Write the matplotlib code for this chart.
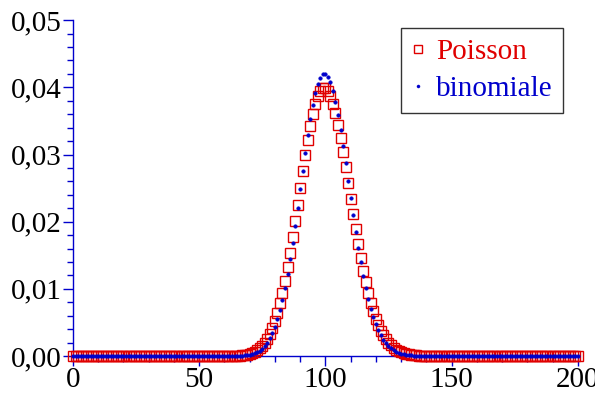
import matplotlib
matplotlib.use("Agg")
import matplotlib.pyplot as plt
from matplotlib.ticker import MultipleLocator, FuncFormatter

# x range of the plotted points
x_min, x_max = 0, 200

# Poisson values, for k = 60 .. 140 (zero elsewhere)
poisson_start = 60
poisson_vals = [
    0.000005, 0.000007, 0.000012, 0.000019, 0.000029, 0.000045, 0.000068, 0.000102, 0.000150, 0.000217,
    0.000311, 0.000437, 0.000608, 0.000832, 0.001125, 0.001500, 0.001973, 0.002562, 0.003285, 0.004158,
    0.005198, 0.006417, 0.007826, 0.009428, 0.011224, 0.013205, 0.015355, 0.017649, 0.020056, 0.022535,
    0.025039, 0.027515, 0.029908, 0.032159, 0.034212, 0.036012, 0.037513, 0.038673, 0.039462, 0.039861,
    0.039861, 0.039466, 0.038692, 0.037565, 0.036120, 0.034400, 0.032453, 0.030330, 0.028083, 0.025764,
    0.023422, 0.021101, 0.018840, 0.016673, 0.014625, 0.012718, 0.010964, 0.009371, 0.007941, 0.006673,
    0.005561, 0.004596, 0.003767, 0.003063, 0.002470, 0.001976, 0.001568, 0.001235, 0.000965, 0.000748,
    0.000575, 0.000439, 0.000333, 0.000250, 0.000187, 0.000138, 0.000102, 0.000074, 0.000054, 0.000039,
    0.000028,
]

# Binomial values, for k = 62 .. 140 (zero elsewhere)
binom_start = 62
binom_vals = [
    0.000005, 0.000009, 0.000015, 0.000024, 0.000037, 0.000058, 0.000089, 0.000133,
    0.000196, 0.000286, 0.000410, 0.000579, 0.000806, 0.001105, 0.001495, 0.001993, 0.002620, 0.003398,
    0.004346, 0.005485, 0.006830, 0.008394, 0.010182, 0.012192, 0.014413, 0.016824, 0.019394, 0.022082,
    0.024836, 0.027595, 0.030294, 0.032864, 0.035234, 0.037336, 0.039108, 0.040497, 0.041461, 0.041973,
    0.042020, 0.041604, 0.040743, 0.039468, 0.037824, 0.035863, 0.033645, 0.031234, 0.028695, 0.026092,
    0.023483, 0.020921, 0.018451, 0.016111, 0.013928, 0.011923, 0.010107, 0.008485, 0.007055, 0.005810,
    0.004740, 0.003830, 0.003066, 0.002432, 0.001911, 0.001488, 0.001148, 0.000878, 0.000665, 0.000500,
    0.000372, 0.000274, 0.000201, 0.000146, 0.000105, 0.000075, 0.000053, 0.000037, 0.000026, 0.000018,
    0.000012,
]

x_ticks = [0, 50, 100, 150, 200]
y_ticks = [0.00, 0.01, 0.02, 0.03, 0.04, 0.05]

ks = list(range(x_min, x_max + 1))
poisson = [0.0] * len(ks)
for i, v in enumerate(poisson_vals):
    poisson[poisson_start + i - x_min] = v
binom = [0.0] * len(ks)
for i, v in enumerate(binom_vals):
    binom[binom_start + i - x_min] = v

RED = "#e00000"
BLUE = "#0000cc"

plt.rcParams['font.family'] = ['Liberation Serif', 'DejaVu Serif']

fig = plt.figure(figsize=(5.95, 3.96), dpi=100)
ax = fig.add_axes([0.1227, 0.101, 0.8483, 0.848])

ax.plot(ks, poisson, linestyle='none', marker='s', markersize=7.2,
        markerfacecolor='none', markeredgecolor=RED, markeredgewidth=1.0,
        clip_on=False, label='Poisson', zorder=3)
ax.plot(ks, binom, linestyle='none', marker='o', markersize=2.6,
        markerfacecolor=BLUE, markeredgecolor=BLUE, markeredgewidth=0.3,
        clip_on=False, label='binomiale', zorder=4)

ax.set_xlim(0, 200)
ax.set_ylim(0, 0.05)

for s in ['top', 'right']:
    ax.spines[s].set_visible(False)
for s in ['left', 'bottom']:
    ax.spines[s].set_color(BLUE)
    ax.spines[s].set_linewidth(1.0)

ax.set_xticks(x_ticks)
ax.set_yticks(y_ticks)
ax.xaxis.set_minor_locator(MultipleLocator(10))
ax.yaxis.set_minor_locator(MultipleLocator(0.002))
ax.yaxis.set_major_formatter(FuncFormatter(lambda v, p: f"{v:.2f}".replace('.', ',')))
ax.xaxis.set_major_formatter(FuncFormatter(lambda v, p: f"{int(round(v))}"))

ax.tick_params(axis='both', which='major', direction='out', length=7, width=1,
               color=BLUE, labelsize=21, labelcolor='black', pad=1)
ax.tick_params(axis='both', which='minor', direction='out', length=4, width=1,
               color=BLUE)

leg = ax.legend(loc='upper right', bbox_to_anchor=(0.970, 0.976), fontsize=21,
                frameon=True, fancybox=False, shadow=False, handlelength=0.5,
                handletextpad=0.35, borderpad=0.35, labelspacing=0.38, markerscale=0.85,
                borderaxespad=0.0)
leg.get_frame().set_edgecolor('black')
leg.get_frame().set_linewidth(1.0)
for txt, col in zip(leg.get_texts(), [RED, BLUE]):
    txt.set_color(col)

fig.savefig("out.png", dpi=100)
